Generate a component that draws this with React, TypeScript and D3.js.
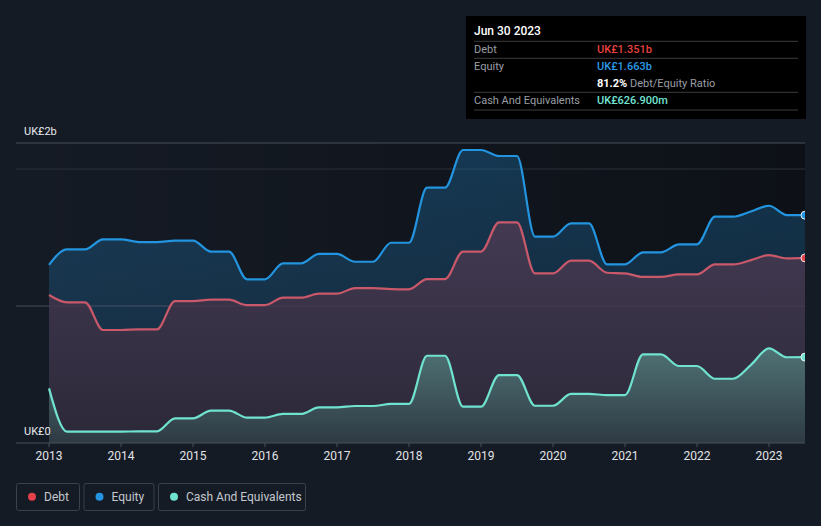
import * as d3 from 'd3';

const quarters: number[] = d3.range(0, 43).map((i) => 2013 + i * 0.25);

const equity: number[] = [
  1.3, 1.414, 1.414, 1.487, 1.487, 1.467, 1.467, 1.477, 1.477, 1.397, 1.397,
  1.195, 1.195, 1.311, 1.311, 1.38, 1.38, 1.323, 1.323, 1.462, 1.462, 1.864,
  1.864, 2.139, 2.139, 2.095, 2.095, 1.506, 1.506, 1.603, 1.603, 1.304, 1.304,
  1.392, 1.392, 1.45, 1.45, 1.652, 1.652, 1.69, 1.732, 1.663, 1.663,
];

const debt: number[] = [
  1.08, 1.027, 1.027, 0.825, 0.825, 0.83, 0.83, 1.036, 1.036, 1.046, 1.046,
  1.007, 1.007, 1.061, 1.061, 1.09, 1.09, 1.131, 1.131, 1.124, 1.122, 1.197,
  1.197, 1.397, 1.397, 1.611, 1.611, 1.238, 1.238, 1.331, 1.331, 1.243, 1.238,
  1.212, 1.212, 1.231, 1.231, 1.304, 1.304, 1.335, 1.372, 1.348, 1.351,
];

const cash: number[] = [
  0.399, 0.083, 0.083, 0.083, 0.083, 0.085, 0.085, 0.18, 0.18, 0.236, 0.236,
  0.185, 0.185, 0.212, 0.212, 0.26, 0.26, 0.27, 0.27, 0.285, 0.285, 0.637,
  0.637, 0.265, 0.265, 0.496, 0.496, 0.272, 0.272, 0.358, 0.358, 0.35, 0.35,
  0.647, 0.647, 0.562, 0.562, 0.469, 0.469, 0.57, 0.691, 0.626, 0.627,
];

const yearTicks: number[] = d3.range(2013, 2024);
const gridValues: number[] = [1, 2];

const legendItems = [
  { label: 'Debt', color: '#e5414a', width: 63 },
  { label: 'Equity', color: '#2394df', width: 70 },
  { label: 'Cash And Equivalents', color: '#6fe3d0', width: 147 },
];

const tooltipRows = [
  { label: 'Debt', value: 'UK£1.351b', color: '#e8413f' },
  { label: 'Equity', value: 'UK£1.663b', color: '#2a9ae8' },
  { label: '', value: '81.2%', color: '#ffffff', extra: ' Debt/Equity Ratio' },
  { label: 'Cash And Equivalents', value: 'UK£626.900m', color: '#72e5d3' },
];

const width = 821;
const height = 526;
const plotLeft = 16;
const plotRight = 805;
const plotTop = 143;
const plotBottom = 443;

const App = () => {
  const x = d3.scaleLinear([2013, 2023.5], [49, plotRight]);
  const y = d3.scaleLinear([0, 2.19], [plotBottom, plotTop]);

  const line = (vals: number[]) =>
    d3
      .line<number>()
      .x((_d, i) => x(quarters[i]))
      .y((d) => y(d))
      .curve(d3.curveMonotoneX)(vals) ?? undefined;

  const area = (vals: number[]) =>
    d3
      .area<number>()
      .x((_d, i) => x(quarters[i]))
      .y0(y(0))
      .y1((d) => y(d))
      .curve(d3.curveMonotoneX)(vals) ?? undefined;

  const lastX = x(quarters[quarters.length - 1]);
  const font = 'Roboto, "Noto Sans", sans-serif';

  return (
    <>
      <style>{'body{margin:0;background:#151b25}'}</style>
      <svg width={width} height={height} style={{ display: 'block', background: '#151b25' }} fontFamily={font}>
        <defs>
          <linearGradient id='plotBg' x1='0' x2='1' y1='0' y2='0'>
            <stop offset='0' stopColor='#000' stopOpacity={0} />
            <stop offset='1' stopColor='#000' stopOpacity={0.38} />
          </linearGradient>
          <linearGradient id='eqFill' x1='0' x2='0' y1='0' y2='1'>
            <stop offset='0' stopColor='#2394df' stopOpacity={0.27} />
            <stop offset='1' stopColor='#2394df' stopOpacity={0.15} />
          </linearGradient>
          <linearGradient id='debtFill' x1='0' x2='0' y1='0' y2='1'>
            <stop offset='0' stopColor='#433a52' />
            <stop offset='1' stopColor='#2b2838' />
          </linearGradient>
          <linearGradient id='cashFill' x1='0' x2='0' y1='0' y2='1'>
            <stop offset='0' stopColor='#4f7275' />
            <stop offset='1' stopColor='#2e3a44' />
          </linearGradient>
          <clipPath id='plotClip'>
            <rect x={plotLeft} y={plotTop - 10} width={plotRight - plotLeft} height={plotBottom - plotTop + 10} />
          </clipPath>
        </defs>

        <rect x={plotLeft} y={plotTop} width={plotRight - plotLeft} height={plotBottom - plotTop} fill='url(#plotBg)' />

        <line x1={plotLeft} x2={plotRight} y1={plotTop} y2={plotTop} stroke='#4a4f57' strokeWidth={1} />
        {gridValues.map((v) => (
          <line key={v} x1={plotLeft} x2={plotRight} y1={y(v)} y2={y(v)} stroke={v === 2 ? '#2c3038' : '#363c48'} strokeWidth={1} />
        ))}

        <g clipPath='url(#plotClip)'>
          <path d={area(equity)} fill='url(#eqFill)' />
          <path d={area(debt)} fill='url(#debtFill)' />
          <path d={area(cash)} fill='url(#cashFill)' />
          <line x1={plotLeft} x2={plotRight} y1={y(1)} y2={y(1)} stroke='#4a4456' strokeOpacity={0.6} strokeWidth={1} />
          <path d={line(equity)} fill='none' stroke='#2394df' strokeWidth={2.2} strokeLinejoin='round' />
          <path d={line(debt)} fill='none' stroke='#c9596a' strokeWidth={2.2} strokeLinejoin='round' />
          <path d={line(cash)} fill='none' stroke='#6fe3d0' strokeWidth={2.2} strokeLinejoin='round' />
          <circle cx={lastX} cy={y(equity[equity.length - 1])} r={4} fill='#2394df' stroke='#e8f0f8' strokeWidth={1} />
          <circle cx={lastX} cy={y(debt[debt.length - 1])} r={4} fill='#e5414a' stroke='#f0e8e8' strokeWidth={1} />
          <circle cx={lastX} cy={y(cash[cash.length - 1])} r={4} fill='#6fe3d0' stroke='#e8f8f4' strokeWidth={1} />
        </g>

        <line x1={plotLeft} x2={plotRight} y1={plotBottom} y2={plotBottom} stroke='#4b515b' strokeWidth={1} />
        {yearTicks.map((t) => (
          <g key={t} transform={`translate(${x(t)},0)`}>
            <line y1={plotBottom} y2={plotBottom + 4} stroke='#4b515b' />
            <text y={plotBottom + 17} textAnchor='middle' fontSize={12} fill='#e2e4e8'>
              {t}
            </text>
          </g>
        ))}

        <text x={24} y={135} fontSize={11} fill='#e8eaed'>UK£2b</text>
        <text x={24} y={435} fontSize={11} fill='#e8eaed'>UK£0</text>

        {legendItems.reduce<{ nodes: JSX.Element[]; left: number }>(
          (acc, item) => {
            const left = acc.left;
            acc.nodes.push(
              <g key={item.label} transform={`translate(${left},483)`}>
                <rect x={0.5} y={0.5} width={item.width} height={27} rx={2} fill='none' stroke='#3b414b' />
                <circle cx={16} cy={13.8} r={4} fill={item.color} />
                <text x={28} y={18} fontSize={12} fill='#c3c7cd'>{item.label}</text>
              </g>,
            );
            acc.left = left + item.width + 4.5;
            return acc;
          },
          { nodes: [], left: 16 },
        ).nodes}

        <g transform='translate(466,16)'>
          <rect width={340} height={103} fill='#000' />
          <text x={8} y={19} fontSize={12} fill='#ffffff' fontWeight={500}>Jun 30 2023</text>
          {[25.3, 42.3, 76.3, 94].map((ly) => (
            <line key={ly} x1={8} x2={332} y1={ly} y2={ly} stroke='#3c3c3c' />
          ))}
          {tooltipRows.map((r, i) => {
            const ry = [37, 54, 71, 88][i];
            return (
              <g key={i}>
                <text x={8} y={ry} fontSize={11} fill='#9a9ea4'>{r.label}</text>
                <text x={131} y={ry} fontSize={11} fill={r.color} fontWeight={i === 2 ? 700 : 500}>
                  {r.value}
                  {r.extra ? <tspan fill='#9a9ea4' fontWeight={400}>{r.extra}</tspan> : null}
                </text>
              </g>
            );
          })}
        </g>
      </svg>
    </>
  );
};

export default App;
